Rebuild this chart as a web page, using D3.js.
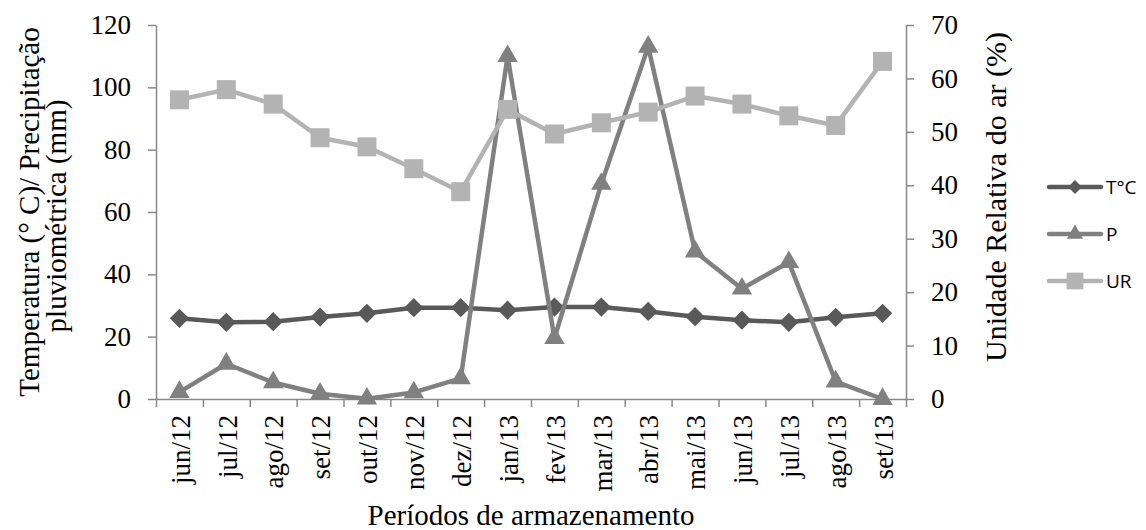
<!DOCTYPE html>
<html>
<head>
<meta charset="utf-8">
<script src="https://cdn.jsdelivr.net/npm/d3@7"></script>
<style>
  body { margin: 0; background: #fff; }
  svg { display: block; }
</style>
</head>
<body>
<div id="chart"></div>
<script>
// data
const months = ["jun/12","jul/12","ago/12","set/12","out/12","nov/12","dez/12",
  "jan/13","fev/13","mar/13","abr/13","mai/13","jun/13","jul/13","ago/13","set/13"];
const tempC = [25.9, 24.6, 24.8, 26.3, 27.5, 29.3, 29.3, 28.5, 29.5, 29.5, 28.1, 26.4, 25.3, 24.6, 26.2, 27.5];
const precip = [2.2, 11.3, 5.3, 1.7, 0.1, 2.1, 6.6, 110, 19.5, 69, 113, 47.3, 35.4, 43.9, 5.6, 0];
const urel = [56.0, 57.9, 55.2, 48.9, 47.2, 43.1, 38.8, 54.2, 49.6, 51.7, 53.7, 56.7, 55.2, 53.0, 51.2, 63.2];
const leftTicks = [0, 20, 40, 60, 80, 100, 120];
const rightTicks = [0, 10, 20, 30, 40, 50, 60, 70];

const width = 1146, height = 530;
const left_margin = 156, right_edge = 906, top_y = 25, bottom_y = 399;
const serif = "'Liberation Serif', 'Times New Roman', serif";
const axisColor = "#888888";

const svg = d3.select("#chart").append("svg")
  .attr("width", width)
  .attr("height", height);

const x = d3.scaleBand().domain(months).range([left_margin, right_edge]);
const cx = d => x(d) + x.bandwidth() / 2;
const xEdge = d3.scaleLinear().domain([0, months.length]).range([left_margin, right_edge]);
const yL = d3.scaleLinear().domain([0, 120]).range([bottom_y, top_y]);
const yR = d3.scaleLinear().domain([0, 70]).range([bottom_y, top_y]);

function styleAxis(g) {
  g.selectAll(".domain").attr("stroke", axisColor).attr("stroke-width", 1.5);
  g.selectAll(".tick line").attr("stroke", axisColor).attr("stroke-width", 1.5);
  g.selectAll("text").attr("fill", "#000").style("font-family", serif).style("font-size", "27px");
}

// left axis
svg.append("g")
  .attr("transform", `translate(${left_margin},0)`)
  .call(d3.axisLeft(yL).tickValues(leftTicks).tickSize(8).tickPadding(17).tickSizeOuter(0))
  .call(styleAxis);

// right axis
svg.append("g")
  .attr("transform", `translate(${right_edge},0)`)
  .call(d3.axisRight(yR).tickValues(rightTicks).tickSize(8).tickPadding(17).tickSizeOuter(0))
  .call(styleAxis);

// bottom axis: ticks between categories
svg.append("g")
  .attr("transform", `translate(0,${bottom_y})`)
  .call(d3.axisBottom(xEdge).ticks(months.length).tickSize(8).tickFormat("").tickSizeOuter(0))
  .call(styleAxis);

// bottom axis labels (rotated)
const xLab = svg.append("g")
  .attr("transform", `translate(0,${bottom_y})`)
  .call(d3.axisBottom(x).tickSize(0).tickPadding(0));
xLab.select(".domain").remove();
xLab.selectAll("text")
  .attr("fill", "#000")
  .style("font-family", serif)
  .style("font-size", "27px")
  .attr("text-anchor", "end")
  .attr("transform", "translate(0,16) rotate(-90)")
  .attr("x", 0).attr("y", 0)
  .attr("dy", "0.38em");

// axis titles
svg.append("text")
  .attr("transform", `translate(39,${(top_y + bottom_y) / 2}) rotate(-90)`)
  .attr("text-anchor", "middle")
  .style("font-family", serif).style("font-size", "29px")
  .text("Temperatura (° C)/ Precipitação");
svg.append("text")
  .attr("transform", `translate(66,${(top_y + bottom_y) / 2 + 4}) rotate(-90)`)
  .attr("text-anchor", "middle")
  .style("font-family", serif).style("font-size", "29px")
  .text("pluviométrica (mm)");
svg.append("text")
  .attr("transform", `translate(1006,${(top_y + bottom_y) / 2 - 15}) rotate(-90)`)
  .attr("text-anchor", "middle")
  .style("font-family", serif).style("font-size", "30px")
  .text("Unidade Relativa do ar (%)");
svg.append("text")
  .attr("x", 531).attr("y", 525)
  .attr("text-anchor", "middle")
  .style("font-family", serif).style("font-size", "29px")
  .text("Períodos de armazenamento");

const series = [
  {name: "T°C", values: tempC, y: yL, color: "#595959", symbol: d3.symbolSquare, rot: 45, size: 185, legendSize: 95},
  {name: "P", values: precip, y: yL, color: "#808080", symbol: d3.symbolTriangle, rot: 0, size: 180, legendSize: 115},
  {name: "UR", values: urel, y: yR, color: "#b3b3b3", symbol: d3.symbolSquare, rot: 0, size: 361, legendSize: 280}
];

for (const s of series) {
  const pts = months.map((m, i) => ({m, v: s.values[i]}));
  const line = d3.line().x(d => cx(d.m)).y(d => s.y(d.v));
  svg.append("path")
    .datum(pts)
    .attr("fill", "none")
    .attr("stroke", s.color)
    .attr("stroke-width", 4.5)
    .attr("stroke-linejoin", "round")
    .attr("d", line);
  svg.selectAll(null)
    .data(pts)
    .enter()
    .append("path")
    .attr("d", d3.symbol().type(s.symbol).size(s.size))
    .attr("transform", d => `translate(${cx(d.m)},${s.y(d.v)}) rotate(${s.rot})`)
    .attr("fill", s.color);
}

// legend
const legend = svg.append("g").attr("transform", "translate(1047,187)");
const items = legend.selectAll("g")
  .data(series)
  .enter()
  .append("g")
  .attr("transform", (d, i) => `translate(0,${i * 47})`);
items.append("line")
  .attr("x1", 2).attr("x2", 54)
  .attr("stroke", d => d.color)
  .attr("stroke-width", 4.5)
  .attr("stroke-linecap", "round");
items.append("path")
  .attr("d", d => d3.symbol().type(d.symbol).size(d.legendSize)())
  .attr("transform", d => `translate(28,0) rotate(${d.rot})`)
  .attr("fill", d => d.color);
items.append("text")
  .attr("x", 59)
  .attr("dy", "0.36em")
  .style("font-family", "'Open Sans', 'Liberation Sans', sans-serif")
  .style("font-size", "19px")
  .text(d => d.name);
</script>
</body>
</html>
